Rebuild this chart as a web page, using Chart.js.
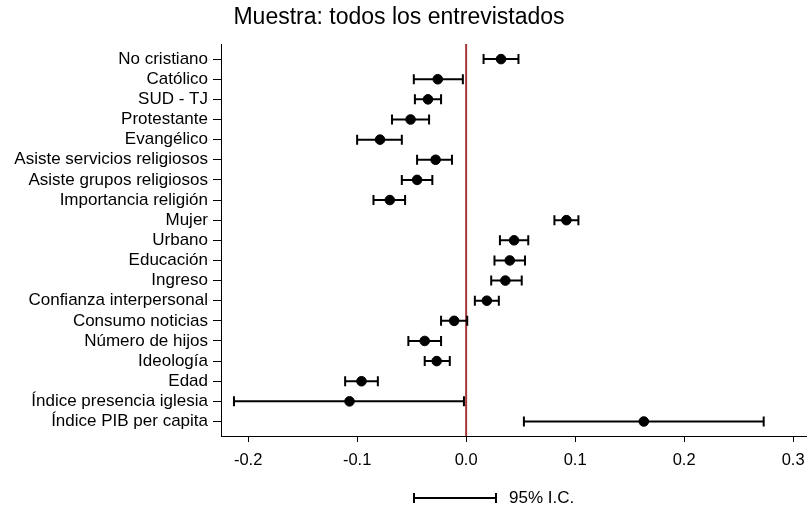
<!DOCTYPE html>
<html>
<head>
<meta charset="utf-8">
<script src="https://cdn.jsdelivr.net/npm/chart.js@4.4.1/dist/chart.umd.min.js"></script>
<style>
  html, body { margin: 0; padding: 0; background: #fff; }
  #wrap { width: 812px; height: 514px; }
</style>
</head>
<body>
<div id="wrap"><canvas id="coefChart"></canvas></div>
<script>
const categories = [
  'No cristiano', 'Católico', 'SUD - TJ', 'Protestante', 'Evangélico',
  'Asiste servicios religiosos', 'Asiste grupos religiosos', 'Importancia religión',
  'Mujer', 'Urbano', 'Educación', 'Ingreso', 'Confianza interpersonal',
  'Consumo noticias', 'Número de hijos', 'Ideología', 'Edad',
  'Índice presencia iglesia', 'Índice PIB per capita'
];
const coef  = [0.032, -0.026, -0.035, -0.051, -0.079, -0.028, -0.045, -0.070, 0.092, 0.044, 0.040, 0.036, 0.019, -0.011, -0.038, -0.027, -0.096, -0.107, 0.163];
const lower = [0.016, -0.048, -0.047, -0.068, -0.100, -0.045, -0.059, -0.085, 0.081, 0.031, 0.026, 0.023, 0.008, -0.023, -0.053, -0.038, -0.111, -0.213, 0.053];
const upper = [0.048, -0.003, -0.023, -0.034, -0.059, -0.013, -0.031, -0.056, 0.103, 0.057, 0.054, 0.051, 0.030, 0.001, -0.023, -0.015, -0.081, -0.002, 0.273];
const xTicks = [-0.2, -0.1, 0.0, 0.1, 0.2, 0.3];

const titleText = 'Muestra: todos los entrevistados';
const legendText = '95% I.C.';
const FONT = '"Liberation Sans", Arial, sans-serif';

// error bars, zero line, title and legend
const extras = {
  id: 'extras',
  beforeDatasetsDraw(chart) {
    const { ctx, chartArea, scales } = chart;
    const x = scales.x, y = scales.y;
    ctx.save();
    // zero reference line
    ctx.strokeStyle = '#a23a3c';
    ctx.lineWidth = 2;
    ctx.beginPath();
    ctx.moveTo(x.getPixelForValue(0), chartArea.top);
    ctx.lineTo(x.getPixelForValue(0), chartArea.bottom);
    ctx.stroke();
    // confidence intervals
    ctx.strokeStyle = '#000';
    ctx.lineWidth = 2;
    categories.forEach((c, i) => {
      const py = y.getPixelForValue(i + 1);
      const x0 = x.getPixelForValue(lower[i]);
      const x1 = x.getPixelForValue(upper[i]);
      ctx.beginPath();
      ctx.moveTo(x0, py); ctx.lineTo(x1, py);
      ctx.moveTo(x0, py - 5); ctx.lineTo(x0, py + 5);
      ctx.moveTo(x1, py - 5); ctx.lineTo(x1, py + 5);
      ctx.stroke();
    });
    ctx.restore();
  },
  afterDraw(chart) {
    const { ctx } = chart;
    ctx.save();
    ctx.fillStyle = '#000';
    ctx.font = '23px ' + FONT;
    ctx.textAlign = 'center';
    ctx.textBaseline = 'middle';
    ctx.fillText(titleText, 399, 18);
    // legend
    ctx.strokeStyle = '#000';
    ctx.lineWidth = 2;
    ctx.beginPath();
    ctx.moveTo(414, 498); ctx.lineTo(496, 498);
    ctx.moveTo(414, 493); ctx.lineTo(414, 503);
    ctx.moveTo(496, 493); ctx.lineTo(496, 503);
    ctx.stroke();
    ctx.font = '17px ' + FONT;
    ctx.textAlign = 'left';
    ctx.fillText(legendText, 509, 498);
    ctx.restore();
  }
};

new Chart(document.getElementById('coefChart'), {
  type: 'scatter',
  data: {
    datasets: [{
      data: coef.map((v, i) => ({ x: v, y: i + 1 })),
      backgroundColor: '#000',
      borderColor: '#000',
      pointRadius: 4.8,
      pointHoverRadius: 4.8
    }]
  },
  options: {
    responsive: true,
    maintainAspectRatio: false,
    animation: false,
    layout: { padding: { left: 0, top: 44, right: 4, bottom: 0 } },
    plugins: { legend: { display: false }, tooltip: { enabled: false } },
    scales: {
      x: {
        type: 'linear',
        min: -0.2249,
        max: 0.312,
        afterBuildTicks: s => { s.ticks = xTicks.map(v => ({ value: v })); },
        afterFit: s => { s.height = 78; s.paddingLeft = 0; s.paddingRight = 0; },
        grid: { drawOnChartArea: false, drawTicks: true, tickLength: 6, color: '#000' },
        border: { display: true, color: '#000', width: 1 },
        ticks: {
          color: '#000',
          font: { size: 16.5, family: FONT },
          padding: 9,
          maxRotation: 0,
          callback: v => v.toFixed(1)
        }
      },
      y: {
        type: 'linear',
        reverse: true,
        min: 0.25,
        max: 19.72,
        afterBuildTicks: s => { s.ticks = categories.map((c, i) => ({ value: i + 1 })); },
        afterFit: s => { s.width = 221; },
        grid: { drawOnChartArea: false, drawTicks: true, tickLength: 8, color: '#000' },
        border: { display: true, color: '#000', width: 1 },
        ticks: {
          color: '#000',
          font: { size: 17, family: FONT },
          padding: 5,
          autoSkip: false,
          callback: v => categories[Math.round(v) - 1]
        }
      }
    }
  },
  plugins: [extras]
});
</script>
</body>
</html>
